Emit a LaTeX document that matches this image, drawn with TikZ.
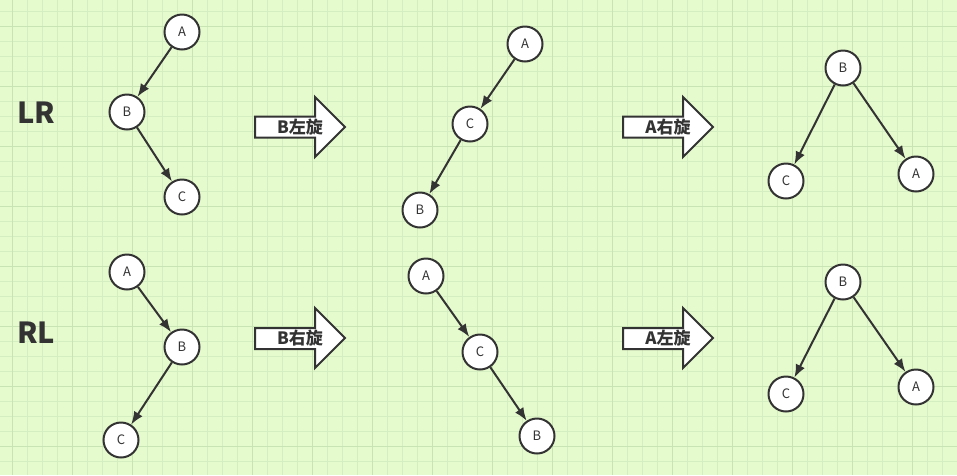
\documentclass[tikz,border=0pt]{standalone}
\usepackage{fontspec}
\setmainfont{Noto Sans CJK SC}
\usetikzlibrary{arrows.meta}
\definecolor{bg}{RGB}{229,250,205}
\definecolor{gminor}{RGB}{213,238,193}
\definecolor{gmajor}{RGB}{200,227,180}
\definecolor{ink}{RGB}{51,51,51}
\tikzset{
  nd/.style={circle, draw=ink, fill=white, line width=2pt, minimum size=35pt, inner sep=0pt, text=ink, font=\fontsize{13}{13}\selectfont},
  edge/.style={draw=ink, line width=2pt, -{Latex[length=13pt,width=10pt]}},
  barrow/.style={draw=ink, fill=white, line width=2pt, line join=miter},
  blbl/.style={text=ink, font=\fontsize{17}{17}\selectfont\bfseries, inner sep=0pt},
  rowlbl/.style={text=ink, font=\fontsize{29}{29}\selectfont\bfseries, inner sep=0pt},
}
\begin{document}
\begin{tikzpicture}[x=1pt,y=-1pt]
\fill[bg] (0,0) rectangle (957,475);
\useasboundingbox (0,0) rectangle (957,475);
% grid
\foreach \k in {0,...,63} \draw[gminor, line width=1pt] ({12.7+15*\k},0) -- ({12.7+15*\k},475);
\foreach \k in {0,...,30} \draw[gminor, line width=1pt] (0,{11.7+15*\k}) -- (957,{11.7+15*\k});
\foreach \k in {0,...,15} \draw[gmajor, line width=1pt] ({12.7+60*\k},0) -- ({12.7+60*\k},475);
\foreach \k in {0,...,7} \draw[gmajor, line width=1pt] (0,{26.7+60*\k}) -- (957,{26.7+60*\k});

% row labels
\node[rowlbl] (LR) at (36,113) {LR};
\node[rowlbl] (RL) at (36,333) {RL};

% LR row trees
\node[nd] (A1) at (182,32) {A};
\node[nd] (B1) at (127,112) {B};
\node[nd] (C1) at (182,197) {C};
\draw[edge] (A1) -- (B1);
\draw[edge] (B1) -- (C1);

\node[nd] (A2) at (525,44) {A};
\node[nd] (C2) at (470,124) {C};
\node[nd] (B2) at (420,210) {B};
\draw[edge] (A2) -- (C2);
\draw[edge] (C2) -- (B2);

\node[nd] (B3) at (843,68) {B};
\node[nd] (C3) at (786,181) {C};
\node[nd] (A3) at (916,174) {A};
\draw[edge] (B3) -- (C3);
\draw[edge] (B3) -- (A3);

% RL row trees
\node[nd] (A4) at (127,272) {A};
\node[nd] (B4) at (182,347) {B};
\node[nd] (C4) at (121,440) {C};
\draw[edge] (A4) -- (B4);
\draw[edge] (B4) -- (C4);

\node[nd] (A5) at (426,276) {A};
\node[nd] (C5) at (480,352) {C};
\node[nd] (B5) at (537,436) {B};
\draw[edge] (A5) -- (C5);
\draw[edge] (C5) -- (B5);

\node[nd] (B6) at (843,282) {B};
\node[nd] (C6) at (786,394) {C};
\node[nd] (A6) at (916,387) {A};
\draw[edge] (B6) -- (C6);
\draw[edge] (B6) -- (A6);

% block arrows
\draw[barrow] (255,116.5) -- (315,116.5) -- (315,97) -- (345,127) -- (315,157) -- (315,137.5) -- (255,137.5) -- cycle;
\node[blbl] (T1) at (300,127) {B左旋};
\draw[barrow] (623,116.5) -- (683,116.5) -- (683,97) -- (713,127) -- (683,157) -- (683,137.5) -- (623,137.5) -- cycle;
\node[blbl] (T2) at (668,127) {A右旋};
\draw[barrow] (255,328) -- (315,328) -- (315,308) -- (345,338) -- (315,368) -- (315,349) -- (255,349) -- cycle;
\node[blbl] (T3) at (300,338) {B右旋};
\draw[barrow] (623,328) -- (683,328) -- (683,308) -- (713,338) -- (683,368) -- (683,349) -- (623,349) -- cycle;
\node[blbl] (T4) at (668,338) {A左旋};
\end{tikzpicture}
\end{document}
